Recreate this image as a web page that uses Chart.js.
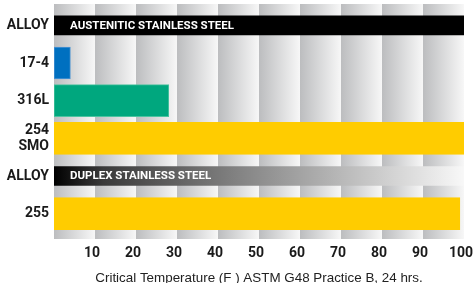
<!DOCTYPE html>
<html>
<head>
<meta charset="utf-8">
<script src="https://cdn.jsdelivr.net/npm/chart.js@4.4.1/dist/chart.umd.min.js"></script>
<style>
html,body{margin:0;padding:0;background:#fff;}
canvas{display:block;}
</style>
</head>
<body>
<canvas id="c" width="476" height="283"></canvas>
<script>
// ---- data ----
const categories = ['ALLOY', '17-4', '316L', ['254', 'SMO'], 'ALLOY', '255'];
const headerValues = [100, null, null, null, 100, null];
const headerTitles = ['AUSTENITIC STAINLESS STEEL', '', '', '', 'DUPLEX STAINLESS STEEL', ''];
const tempValues = [null, 4, 28, 100, null, 99];
const axisTitle = 'Critical Temperature (F ) ASTM G48 Practice B, 24 hrs.';
const xMin = 0, xMax = 100, xStep = 10;

// ---- styles ----
const barColors = [null, '#0070c0', '#00a77e', '#ffcc00', null, '#ffcc00'];
const barBorders = [null, '#4d94d4', '#4cc3a0', '#ffcc00', null, '#ffcc00'];
const narrow = "Roboto, 'Liberation Sans', sans-serif";

const bandPlugin = {
  id: 'bands',
  beforeDatasetsDraw(chart) {
    const {ctx, chartArea} = chart;
    const xs = chart.scales.x;
    const top = chartArea.top - 2.5, bottom = chartArea.bottom + 6.5;
    ctx.save();
    for (let v = xMin; v < xMax; v += xStep) {
      const x0 = xs.getPixelForValue(v), x1 = xs.getPixelForValue(v + xStep);
      const g = ctx.createLinearGradient(x0, 0, x1, 0);
      g.addColorStop(0, '#bcbdbf');
      g.addColorStop(1, '#f7f7f7');
      ctx.fillStyle = g;
      ctx.fillRect(x0, top, x1 - x0, bottom - top);
    }
    ctx.restore();
  }
};

const headerTextPlugin = {
  id: 'headerText',
  afterDatasetsDraw(chart) {
    const {ctx} = chart;
    const meta = chart.getDatasetMeta(0);
    ctx.save();
    ctx.fillStyle = '#ffffff';
    ctx.font = "bold 11.5px " + narrow;
    ctx.textBaseline = 'middle';
    ctx.textAlign = 'left';
    meta.data.forEach((bar, i) => {
      if (!headerTitles[i]) return;
      ctx.fillText(headerTitles[i], bar.base + 16, bar.y + 0.5);
    });
    ctx.restore();
  }
};

function headerColor(c) {
  if (c.dataIndex === 4) {
    const area = c.chart.chartArea;
    if (!area) return '#000';
    const g = c.chart.ctx.createLinearGradient(area.left, 0, area.right, 0);
    g.addColorStop(0, '#000000');
    g.addColorStop(0.12, '#3a3a3a');
    g.addColorStop(0.45, '#838383');
    g.addColorStop(1, '#f8f8f8');
    return g;
  }
  return '#000000';
}

new Chart(document.getElementById('c'), {
  type: 'bar',
  data: {
    labels: categories,
    datasets: [
      {
        data: headerValues,
        backgroundColor: headerColor,
        borderWidth: 0,
        barThickness: 19,
        grouped: false
      },
      {
        data: tempValues,
        backgroundColor: barColors,
        borderColor: barBorders,
        borderWidth: 1,
        borderSkipped: false,
        barThickness: 32,
        grouped: false
      }
    ]
  },
  options: {
    indexAxis: 'y',
    responsive: false,
    animation: false,
    layout: {padding: {top: 6.5, right: 12, bottom: 0, left: 0}},
    plugins: {legend: {display: false}, tooltip: {enabled: false}},
    scales: {
      x: {
        min: xMin, max: xMax,
        grid: {display: false, drawTicks: false},
        border: {display: false},
        afterFit: (s) => { s.paddingLeft = 0; s.paddingRight = 0; s.height = 50.5; },
        ticks: {
          stepSize: xStep,
          padding: 13,
          labelOffset: -3,
          color: '#1a1a1a',
          font: {family: narrow, size: 14, weight: 'bold'},
          callback: (v) => v === 0 ? '' : v
        },
        title: {
          display: true,
          text: axisTitle,
          color: '#222',
          font: {family: "'Liberation Sans', Arial, sans-serif", size: 13.4, lineHeight: 1},
          padding: {top: 0, bottom: -2}
        }
      },
      y: {
        grid: {display: false, drawTicks: false},
        border: {display: false},
        afterFit: (s) => { s.width = 54; s.paddingTop = 0; s.paddingBottom = 0; },
        ticks: {
          padding: 5,
          color: '#1a1a1a',
          font: {family: narrow, size: 14, weight: 'bold', lineHeight: 1.1}
        }
      }
    }
  },
  plugins: [bandPlugin, headerTextPlugin]
});
</script>
</body>
</html>
